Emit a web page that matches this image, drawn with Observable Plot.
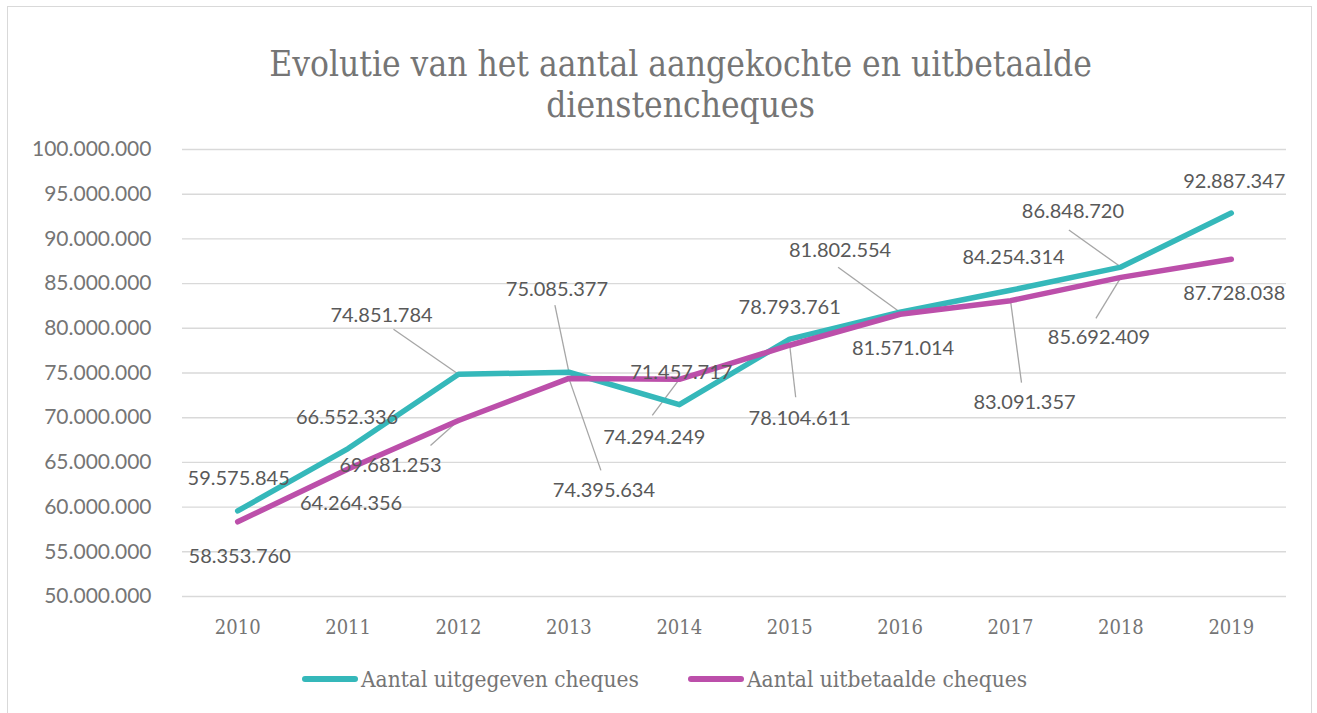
<!DOCTYPE html>
<html>
<head>
<meta charset="utf-8">
<script src="https://cdn.jsdelivr.net/npm/d3@7"></script>
<script src="https://cdn.jsdelivr.net/npm/@observablehq/plot@0.6"></script>
<style>
  html, body { margin: 0; padding: 0; background: #fff; overflow: hidden; }
  #wrap { position: relative; width: 1317px; height: 713px; overflow: hidden; background: #fff; }
  #frame { position: absolute; left: 7px; top: 6px; width: 1305px; height: 800px; border: 1.5px solid #d9d9d9; box-sizing: border-box; }
  #title { position: absolute; left: 0; top: 44px; width: 1361px; text-align: center;
           font-family: "DejaVu Serif Condensed", "DejaVu Serif", serif; font-size: 35px; line-height: 41px; color: #757575; }
  #chart { position: absolute; left: 0; top: 135px; }
  .leg { position: absolute; top: 666px; height: 26px; display: flex; align-items: center;
         font-family: "DejaVu Serif Condensed", "DejaVu Serif", serif; font-size: 22.5px; color: #757575; white-space: nowrap; }
  .leg .sw { display: inline-block; width: 56px; height: 6px; border-radius: 3px; margin-right: 3px; }
</style>
</head>
<body>
<div id="wrap">
  <div id="frame"></div>
  <div id="title">Evolutie van het aantal aangekochte en uitbetaalde<br>dienstencheques</div>
  <div id="chart"></div>
  <div class="leg" id="leg1"></div>
  <div class="leg" id="leg2"></div>
</div>
<script>
// ---- data ----
const years = [2010, 2011, 2012, 2013, 2014, 2015, 2016, 2017, 2018, 2019];
const uitgegeven = [59575845, 66552336, 74851784, 75085377, 71457717, 78793761, 81802554, 84254314, 86848720, 92887347];
const uitbetaald = [58353760, 64264356, 69681253, 74395634, 74294249, 78104611, 81571014, 83091357, 85692409, 87728038];
const seriesNames = ["Aantal uitgegeven cheques", "Aantal uitbetaalde cheques"];
const seriesColors = ["#35b8ba", "#bc4faa"];
const yTicks = [50000000, 55000000, 60000000, 65000000, 70000000, 75000000, 80000000, 85000000, 90000000, 95000000, 100000000];

// label placement (pixel offsets from the point): [dx, dy, leaderDx, leaderDy] (leader null = none)
const offsUitgegeven = [
  [1, -32, null, null], [-1, -31, null, null], [-77, -59, -65, -45], [-12, -83, -14, -67], [2, -32, null, null],
  [0, -31, null, null], [-60, -62, -62, -45], [3, -33, null, null], [-48, -55, -52, -37], [3, -31, null, null]
];
const offsUitbetaald = [
  [2, 35, null, null], [3, 35, null, null], [-68, 45, -28, 25], [35, 112, 32, 92], [-25, 58, -27, 36],
  [10, 73, 6, 52], [3, 34, null, null], [14, 102, 11, 82], [-22, 60, -25, 41], [3, 34, null, null]
];

// ---- layout ----
const W = 1317, H = 515, mL = 182, mR = 31, mT = 14, mB = 54;
const xDomain = [2009.5, 2019.5], yDomain = [50000000, 100000000];
const pxX = (W - mL - mR) / (xDomain[1] - xDomain[0]);
const pxY = (H - mT - mB) / (yDomain[1] - yDomain[0]);

const nl = d3.formatLocale({decimal: ",", thousands: ".", grouping: [3], currency: ["", ""]});
const fmt = nl.format(",d");

const rows = [];
const labels = [];
[uitgegeven, uitbetaald].forEach((vals, s) => {
  const offs = s === 0 ? offsUitgegeven : offsUitbetaald;
  years.forEach((yr, i) => {
    rows.push({series: seriesNames[s], year: yr, value: vals[i]});
    const o = offs[i];
    labels.push({
      year: yr, value: vals[i], text: fmt(vals[i]),
      lx: yr + o[0] / pxX, ly: vals[i] - o[1] / pxY,
      hasLeader: o[2] !== null,
      sx: o[2] !== null ? yr + o[2] / pxX : yr, sy: o[3] !== null ? vals[i] - o[3] / pxY : vals[i]
    });
  });
});

const chart = Plot.plot({
  width: W, height: H,
  marginLeft: mL, marginRight: mR, marginTop: mT, marginBottom: mB,
  style: {background: "transparent", overflow: "visible"},
  x: {domain: xDomain},
  y: {domain: yDomain},
  color: {domain: seriesNames, range: seriesColors},
  marks: [
    Plot.ruleY(yTicks, {stroke: "#d9d9d9", strokeWidth: 1.4}),
    Plot.axisY(yTicks, {tickSize: 0, tickPadding: 31, tickFormat: fmt, label: null,
      fontSize: 21, fontFamily: "Lato", fill: "#757575"}),
    Plot.axisX(years, {tickSize: 0, tickPadding: 23, tickFormat: d => String(d), label: null,
      fontSize: 20, fontFamily: "'DejaVu Serif Condensed', 'DejaVu Serif', serif", fill: "#757575"}),
    Plot.link(labels.filter(d => d.hasLeader), {x1: "sx", y1: "sy", x2: "year", y2: "value",
      stroke: "#a6a6a6", strokeWidth: 1.3}),
    Plot.line(rows, {x: "year", y: "value", z: "series", stroke: "series",
      strokeWidth: 5.5, strokeLinecap: "round", strokeLinejoin: "round"}),
    Plot.text(labels, {x: "lx", y: "ly", text: "text", fontSize: 20, fontFamily: "Lato", fill: "#595959"})
  ]
});
document.getElementById("chart").appendChild(chart);

// legend
const legPos = [302, 688];
seriesNames.forEach((name, i) => {
  const el = document.getElementById("leg" + (i + 1));
  el.style.left = legPos[i] + "px";
  const sw = document.createElement("span");
  sw.className = "sw";
  sw.style.background = seriesColors[i];
  el.appendChild(sw);
  el.appendChild(document.createTextNode(name));
});
</script>
</body>
</html>
